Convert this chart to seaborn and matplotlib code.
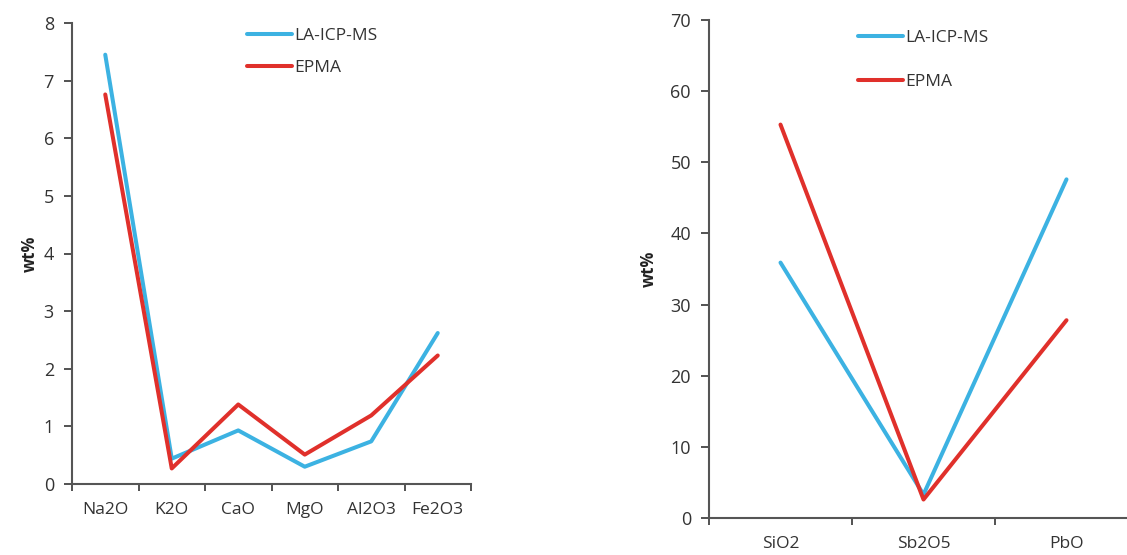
import numpy as np
import pandas as pd
import matplotlib
matplotlib.use("Agg")
import matplotlib.pyplot as plt
import seaborn as sns
from matplotlib.ticker import FixedLocator

# minor oxides (left panel)
minor_oxides = ["Na2O", "K2O", "CaO", "MgO", "Al2O3", "Fe2O3"]
minor_la = [7.45, 0.44, 0.93, 0.30, 0.74, 2.62]
minor_epma = [6.76, 0.27, 1.38, 0.51, 1.19, 2.23]

# major oxides (right panel)
major_oxides = ["SiO2", "Sb2O5", "PbO"]
major_la = [35.9, 3.3, 47.6]
major_epma = [55.3, 2.6, 27.8]

methods = ["LA-ICP-MS", "EPMA"]
colors = {"LA-ICP-MS": "#3cb2e2", "EPMA": "#e0302b"}

sns.set_theme(style="white")
plt.rcParams['font.family'] = ['Open Sans', 'DejaVu Sans']

W, H = 1127, 555
fig = plt.figure(figsize=(W / 100, H / 100), dpi=100)


def long_df(oxides, la, epma):
    return pd.DataFrame({
        "oxide": oxides * 2,
        "wt": la + epma,
        "method": ["LA-ICP-MS"] * len(oxides) + ["EPMA"] * len(oxides),
    })


def panel(rect, oxides, la, epma, ymax, ystep, ylab_x, leg_xy, leg_gap):
    x0, y0, x1, y1 = rect
    ax = fig.add_axes([x0 / W, 1 - y1 / H, (x1 - x0) / W, (y1 - y0) / H])
    df = long_df(oxides, la, epma)
    sns.lineplot(data=df, x="oxide", y="wt", hue="method", hue_order=methods,
                 palette=colors, linewidth=2.9, sort=False, ax=ax, legend=False)
    n = len(oxides)
    ax.set_xlim(-0.5, n - 0.5)
    ax.set_ylim(0, ymax)
    ax.set_yticks(np.arange(0, ymax + 0.1, ystep))
    ax.set_xticks(range(n))
    ax.set_xticklabels(oxides)
    ax.xaxis.set_minor_locator(FixedLocator(np.arange(-0.5, n, 1.0)))
    ax.tick_params(axis="x", which="major", length=0, pad=13, labelsize=12.5, labelcolor="#333333")
    ax.tick_params(axis="x", which="minor", bottom=True, length=5, width=1.3, color="#444444", direction="out")
    ax.tick_params(axis="y", left=True, length=6, width=1.3, color="#444444", direction="out",
                   pad=7, labelsize=13, labelcolor="#333333")
    for s in ["top", "right"]:
        ax.spines[s].set_visible(False)
    for s in ["left", "bottom"]:
        ax.spines[s].set_color("#555555")
        ax.spines[s].set_linewidth(1.5)
    ax.set_xlabel("")
    ax.set_ylabel("")
    ax.grid(False)
    fig.text(ylab_x / W, 1 - ((y0 + y1) / 2) / H, "wt%", rotation=90, fontsize=12,
             fontweight="bold", color="#222222", ha="center", va="center")
    handles = [plt.Line2D([], [], color=colors[m], linewidth=2.9) for m in methods]
    fig.legend(handles, methods, loc="upper left",
               bbox_to_anchor=(leg_xy[0] / W, 1 - leg_xy[1] / H),
               frameon=False, handlelength=2.6, handletextpad=0.15,
               labelspacing=leg_gap, fontsize=12.5, borderpad=0, borderaxespad=0,
               labelcolor="#333333")
    return ax


panel((72, 23, 471, 484), minor_oxides, minor_la, minor_epma, 8, 1, 30, (247, 28), 0.9)
panel((709, 20, 1138, 518), major_oxides, major_la, major_epma, 70, 10, 649, (858, 30), 1.6)

fig.savefig("out.png", dpi=100)
